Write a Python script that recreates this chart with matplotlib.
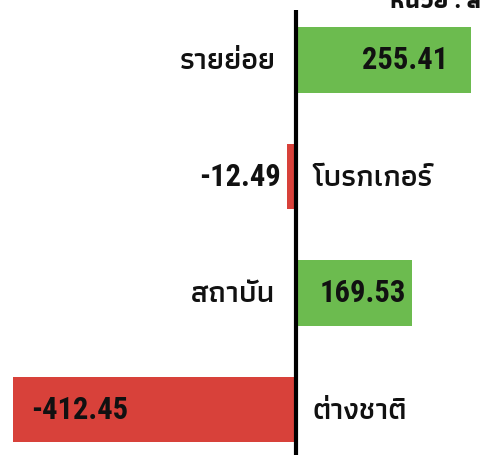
import matplotlib
matplotlib.use('Agg')
import matplotlib.pyplot as plt

# data
categories = ['รายย่อย', 'โบรกเกอร์', 'สถาบัน', 'ต่างชาติ']
values = [255.41, -12.49, 169.53, -412.45]
value_labels = ['255.41', '-12.49', '169.53', '-412.45']
unit_text = 'หน่วย : ล้านบาท'

GREEN = '#6cbb4f'
RED = '#d8413a'
FONT = ['Roboto Condensed', 'Athiti', 'Noto Sans Thai', 'DejaVu Sans']
TXT = '#111111'

W, H = 480, 455
fig = plt.figure(figsize=(W / 100, H / 100), dpi=100)
top_px = 10
ax = fig.add_axes([0, 0, 1, (H - top_px) / H])
ax.set_xlim(-431, 269)
ax.set_ylim(3.39, -0.43)
ax.axis('off')

ypos = list(range(len(categories)))
colors = [GREEN if v >= 0 else RED for v in values]
ax.barh(ypos, values, height=0.565, color=colors, left=0, zorder=2)
ax.axvline(0, color='black', lw=3, zorder=3)

px = 72 / 100
cat_kw = dict(textcoords='offset points', va='center', fontsize=22, family=FONT,
              fontweight='semibold', color=TXT, zorder=4)
val_kw = dict(textcoords='offset points', va='center', fontsize=22, family=FONT,
              fontweight='semibold', color=TXT, zorder=4)

for i, (v, cat) in enumerate(zip(values, categories)):
    if v >= 0:
        ax.annotate(cat, (0, i), xytext=(-20 * px, 0), ha='right', **cat_kw)
    else:
        ax.annotate(cat, (0, i), xytext=(17 * px, 0), ha='left', **cat_kw)

ax.annotate(value_labels[0], (values[0], 0), xytext=(-23 * px, 0), ha='right', **val_kw)
ax.annotate(value_labels[1], (0, 1), xytext=(-15 * px, 0), ha='right', **val_kw)
ax.annotate(value_labels[2], (0, 2), xytext=(24 * px, 0), ha='left', **val_kw)
ax.annotate(value_labels[3], (values[3], 3), xytext=(18 * px, 0), ha='left', **val_kw)

fig.text(390 / W, 1 - 8 / H, unit_text, ha='left', va='baseline', fontsize=18,
         family=FONT, fontweight='bold', color=TXT)

fig.savefig('out.png', dpi=100, facecolor='white')
